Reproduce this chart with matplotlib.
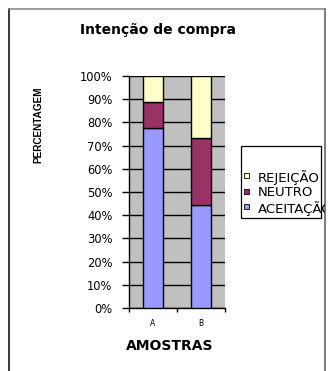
import matplotlib
matplotlib.use("Agg")
import matplotlib.pyplot as plt
from matplotlib.lines import Line2D
from matplotlib.patches import Rectangle
from matplotlib.ticker import PercentFormatter, FixedLocator

W, H = 329, 371

amostras = ["A", "B"]
series = ["ACEITAÇÃO", "NEUTRO", "REJEIÇÃO"]
aceitacao = [77.8, 44.4]
neutro = [11.1, 28.9]
rejeicao = [11.1, 26.7]
colors = ["#9999FF", "#993366", "#FFFFCC"]


def px(x, y):
    """pixel coords (top-left origin) -> figure fraction"""
    return x / W, 1 - y / H


plt.rcParams["font.family"] = "DejaVu Sans"
fig = plt.figure(figsize=(W / 100, H / 100), dpi=100)

x0, y1 = px(129, 308)
ax = fig.add_axes([x0, y1, 96 / W, 232 / H])
ax.set_facecolor("#C0C0C0")

xpos = list(range(len(amostras)))
bottom = [0.0] * len(amostras)
for vals, c in zip([aceitacao, neutro, rejeicao], colors):
    ax.bar(xpos, vals, width=0.4, bottom=bottom, color=c,
           edgecolor="black", linewidth=1.0, zorder=3)
    bottom = [b + v for b, v in zip(bottom, vals)]

ax.set_xlim(-0.5, len(amostras) - 0.5)
ax.set_ylim(0, 100)
ax.set_yticks(range(0, 101, 10))
ax.yaxis.set_major_formatter(PercentFormatter(decimals=0))
ax.yaxis.grid(True, color="black", linewidth=1.0, zorder=1)
ax.set_axisbelow(True)
ax.tick_params(axis="y", length=5, width=1, labelsize=8.3, pad=7)

ax.set_xticks(xpos)
ax.set_xticklabels(amostras)
ax.xaxis.set_minor_locator(FixedLocator([-0.5, 0.5, 1.5]))
ax.tick_params(axis="x", which="major", length=0, labelsize=5.5, pad=8)
ax.tick_params(axis="x", which="minor", length=3, width=1)

for s in ["top", "right"]:
    ax.spines[s].set_visible(False)
ax.spines["left"].set_linewidth(1.0)
ax.spines["bottom"].set_linewidth(1.0)

# titles
fig.text(*px(158, 30), "Intenção de compra", ha="center", va="center",
         fontsize=10, fontweight="bold")
fig.text(*px(170, 346), "AMOSTRAS", ha="center", va="center",
         fontsize=10, fontweight="bold")
fig.text(*px(38, 125), "PERCENTAGEM", ha="center", va="center",
         rotation=90, fontsize=7.2, fontweight="bold",
         family=["Liberation Sans", "DejaVu Sans"])

# legend, drawn by hand (text runs past the box, clipped by the outer frame)
bx0, by0 = px(240.5, 218)
bx1, by1 = px(320.5, 146)
fig.patches.append(Rectangle((bx0, by0), bx1 - bx0, by1 - by0,
                             transform=fig.transFigure, facecolor="white",
                             edgecolor="black", linewidth=0.9))
clip = Rectangle((0, 0), 324.5 / W, 1, transform=fig.transFigure,
                 facecolor="none", edgecolor="none")
fig.patches.append(clip)
for i, (name, c) in enumerate(reversed(list(zip(series, colors)))):
    yy = 177.5 + i * 15.5
    sx, sy = px(244, yy + 0.5)
    fig.patches.append(Rectangle((sx, sy), 5 / W, 5 / H,
                                 transform=fig.transFigure, facecolor=c,
                                 edgecolor="black", linewidth=0.6))
    t = fig.text(*px(257.5, yy), name, ha="left", va="center", fontsize=9.5)
    t.set_clip_path(clip)

# outer chart frame
fig.lines.append(Line2D([8.5 / W, 8.5 / W], [1 - 8.5 / H, 0],
                        transform=fig.transFigure, color="black", linewidth=1.1))
fig.lines.append(Line2D([8.5 / W, 325 / W], [1 - 8.5 / H, 1 - 8.5 / H],
                        transform=fig.transFigure, color="#808080", linewidth=1.1))
fig.lines.append(Line2D([325 / W, 325 / W], [1 - 8.5 / H, 0],
                        transform=fig.transFigure, color="#808080", linewidth=1.5))

fig.savefig("out.png", dpi=100)
